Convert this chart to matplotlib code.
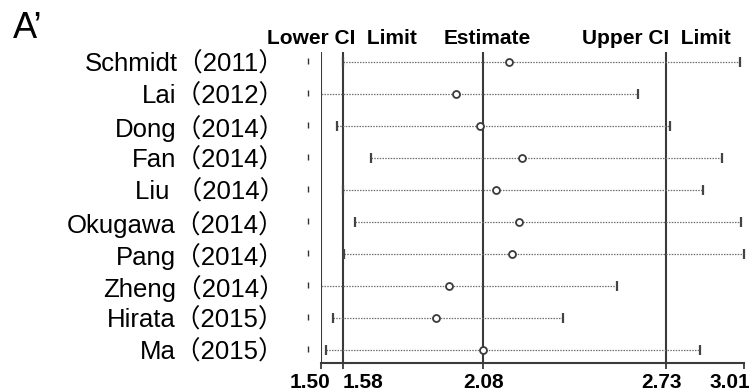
import matplotlib.pyplot as plt
import matplotlib.transforms as mtransforms
import numpy as np

# study estimates with 95% CI
studies = ["Schmidt（2011）", "Lai（2012）", "Dong（2014）", "Fan（2014）", "Liu （2014）",
           "Okugawa（2014）", "Pang（2014）", "Zheng（2014）", "Hirata（2015）", "Ma（2015）"]
lower = [1.580, 1.470, 1.558, 1.679, 1.577, 1.621, 1.583, 1.470, 1.544, 1.517]
estimate = [2.172, 1.983, 2.068, 2.218, 2.124, 2.206, 2.182, 1.957, 1.911, 2.080]
upper = [2.994, 2.631, 2.746, 2.933, 2.862, 2.998, 3.010, 2.556, 2.365, 2.854]

# reference lines: min, pooled lower, pooled estimate, pooled upper
ref_lines = [1.50, 1.58, 2.08, 2.73]
xticks = [1.50, 1.58, 2.08, 2.73, 3.01]
tick_shift = [-11, 20, 0, -4, -14]  # pixel nudges so labels don't collide
headers = ["Lower CI  Limit", "Estimate", "Upper CI  Limit"]

label_font = ["Liberation Sans", "Noto Sans CJK SC", "DejaVu Sans"]
bold_font = ["Liberation Sans", "DejaVu Sans"]

fig = plt.figure(figsize=(7.49, 3.92), dpi=100)
ax = fig.add_axes([321 / 749, 29 / 392, 423 / 749, 311 / 392])

y = np.arange(len(studies))
xmin, xmax = 1.50, 3.01

for xv in ref_lines:
    ax.axvline(xv, color="#3a3a3a", lw=1.5, zorder=1)

ax.hlines(y, lower, upper, colors="#707070", linestyles=(0, (1.2, 1)), lw=0.9, zorder=2)

lo = np.array(lower)
keep = lo >= xmin
ax.plot(lo[keep], y[keep], ls="none", marker="|", ms=7, mew=1.6, color="#444444", zorder=3)
ax.plot(upper, y, ls="none", marker="|", ms=7, mew=1.6, color="#444444", zorder=3, clip_on=False)
ax.plot(estimate, y, ls="none", marker="o", ms=5, mfc="white", mec="#3a3a3a", mew=1.3, zorder=4)

# small row markers left of the axis
tr = mtransforms.blended_transform_factory(ax.transAxes, ax.transData)
ax.plot(np.full(len(y), -13 / 423), y - 0.03, ls="none", marker="|", ms=5, mew=1.0,
        color="#333333", transform=tr, clip_on=False)

ax.set_xlim(xmin, xmax)
ax.set_ylim(9.406, -0.3125)

ax.set_yticks(y)
ax.set_yticklabels(studies, family=label_font, fontsize=18.5)
ax.tick_params(axis="y", length=0, pad=26)

ax.set_xticks(xticks)
ax.set_xticklabels([f"{t:.2f}" for t in xticks], family=bold_font, fontweight="bold", fontsize=15)
ax.tick_params(axis="x", length=4, width=1.3, color="#3a3a3a", pad=3)
for lab, dx in zip(ax.get_xticklabels(), tick_shift):
    lab.set_transform(lab.get_transform() + mtransforms.ScaledTranslation(dx / 100, 0, fig.dpi_scale_trans))

for s in ["top", "right", "left"]:
    ax.spines[s].set_visible(False)
ax.spines["bottom"].set_linewidth(1.5)
ax.spines["bottom"].set_color("#3a3a3a")

for txt, cx in zip(headers, [341.5, 487, 656.5]):
    fig.text(cx / 749, 1 - 43.5 / 392, txt, ha="center", va="baseline",
             family=bold_font, fontweight="bold", fontsize=15)

fig.text(13 / 749, 1 - 38 / 392, "A’", ha="left", va="baseline", family=bold_font, fontsize=26)

fig.savefig("out.png", dpi=100)
